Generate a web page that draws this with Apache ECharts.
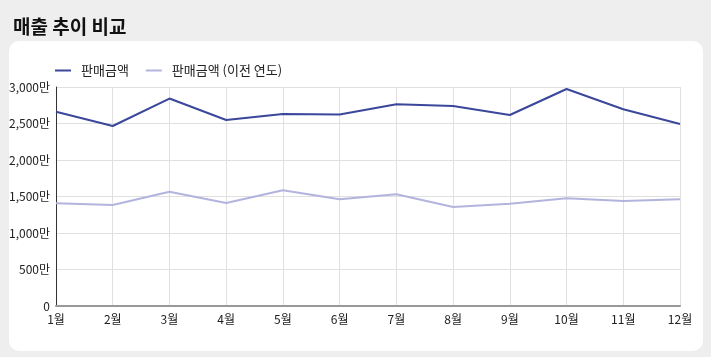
<!DOCTYPE html>
<html><head><meta charset="utf-8">
<script src="https://cdn.jsdelivr.net/npm/echarts@6/dist/echarts.min.js"></script>
<style>
html,body{margin:0;padding:0;width:711px;height:357px;background:#eeeeee;overflow:hidden;}
#card{position:absolute;left:9px;top:41px;width:694px;height:310px;background:#fff;border-radius:10px;}
#main{position:absolute;left:0;top:0;width:711px;height:357px;}
</style></head>
<body>
<div id="card"></div>
<div id="main"></div>
<script>
const categories = ['1월','2월','3월','4월','5월','6월','7월','8월','9월','10월','11월','12월'];
const salesCurrent = [2660, 2466, 2842, 2548, 2630, 2623, 2763, 2740, 2616, 2973, 2695, 2493];
const salesPrevious = [1407, 1384, 1566, 1411, 1585, 1461, 1530, 1356, 1401, 1475, 1438, 1461];
const seriesNames = ['판매금액', '판매금액 (이전 연도)'];
const titleText = '매출 추이 비교';

const chart = echarts.init(document.getElementById('main'), null, {renderer:'canvas'});
const font = '"Noto Sans CJK KR", "Noto Sans", sans-serif';
chart.setOption({
  backgroundColor: 'transparent',
  textStyle: {fontFamily: font},
  title: {text: titleText, left: 8, top: 12, textStyle: {fontSize: 19, fontWeight: 'bold', color: '#111', fontFamily: font}},
  legend: {
    left: 50, top: 59, itemWidth: 16, itemHeight: 2, itemGap: 17,
    icon: 'rect',
    textStyle: {fontSize: 13, color: '#222', fontFamily: font, padding: [0, 0, 0, 5]},
    data: seriesNames
  },
  grid: {left: 56, right: 31, top: 87, bottom: 51, containLabel: false},
  xAxis: {
    type: 'category', data: categories, boundaryGap: false,
    axisLine: {lineStyle: {color: '#999', width: 2}},
    axisTick: {show: false},
    axisLabel: {color: '#222', fontSize: 12, margin: 7, fontFamily: font},
    splitLine: {show: true, lineStyle: {color: '#e0e0e0'}}
  },
  yAxis: {
    type: 'value', min: 0, max: 3000, interval: 500,
    axisLine: {show: true, lineStyle: {color: '#333', width: 1}},
    axisTick: {show: false},
    axisLabel: {color: '#222', fontSize: 12, margin: 6, fontFamily: font,
      formatter: v => v === 0 ? '0' : v.toLocaleString('en-US') + '만'},
    splitLine: {show: true, lineStyle: {color: '#e0e0e0'}}
  },
  series: [
    {name: seriesNames[0], type: 'line', data: salesCurrent, symbol: 'none', color: '#3a479b', lineStyle: {width: 2, color: '#3a479b'}},
    {name: seriesNames[1], type: 'line', data: salesPrevious, symbol: 'none', color: '#b3b4de', lineStyle: {width: 2, color: '#b3b4de'}}
  ]
});
</script>
</body></html>
